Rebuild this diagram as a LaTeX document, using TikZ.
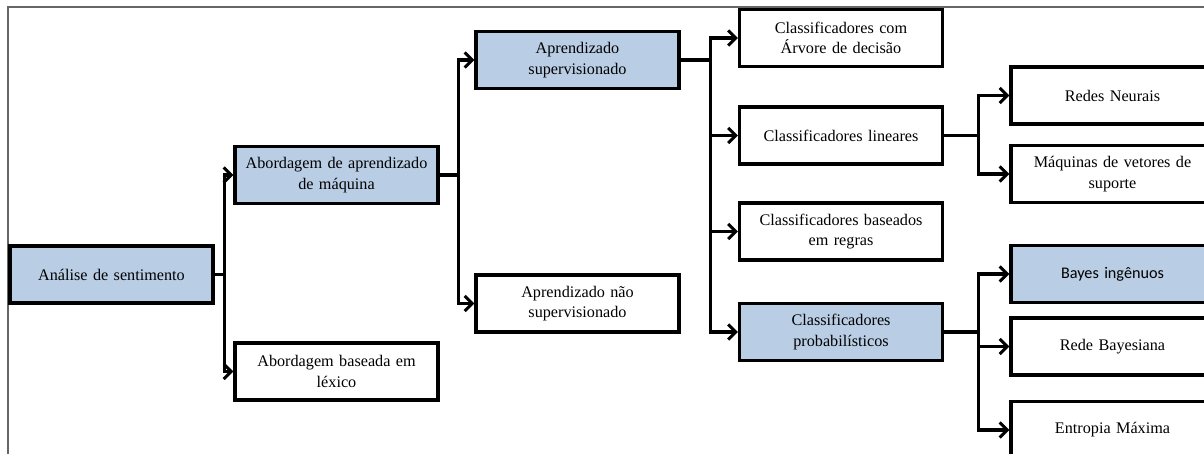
\documentclass[tikz,border=0pt]{standalone}
\usepackage{fontspec}
\setmainfont{Liberation Serif}
\newfontfamily\calibrifont{Carlito}
\usetikzlibrary{arrows.meta}

\begin{document}
\begin{tikzpicture}[x=1pt, y=-1pt, >={Straight Barb[length=7.5pt,width=15pt,line width=3pt]},
  caixa/.style={draw, line width=3.4pt, minimum width=203pt, minimum height=57pt, inner sep=0pt,
    text width=196pt, align=center, font=\fontsize{16.2}{20.5}\selectfont},
  azul/.style={caixa, fill=caixaazul},
  liga/.style={->, line width=3.2pt}]
\definecolor{caixaazul}{RGB}{185,205,229}
\clip (0,0) rectangle (1204,454);
\draw [black!60, line width=1.2pt] (8,454) -- (8,7) -- (1204,7);

\node [azul,name=ana] at (111.5,274.5) {Análise de sentimento};
\node [azul,name=ml] at (336.5,175) {Abordagem de aprendizado\\de máquina};
\node [caixa,name=lex] at (336.5,371.5) {Abordagem baseada em\\léxico};
\node [azul,name=sup] at (577.5,60) {Aprendizado\\supervisionado};
\node [caixa,name=nsup] at (577.5,303.5) {Aprendizado não\\supervisionado};
\node [caixa,name=arv] at (841,38) {Classificadores com\\Árvore de decisão};
\node [caixa,name=lin] at (841,135.5) {Classificadores lineares};
\node [caixa,name=reg] at (841,231.5) {Classificadores baseados\\em regras};
\node [azul,name=prob] at (841,332) {Classificadores\\probabilísticos};
\node [caixa,name=rn] at (1112.5,95.5) {Redes Neurais};
\node [caixa,name=svm] at (1112.5,174) {Máquinas de vetores de\\suporte};
\node [azul,name=bayes,font=\calibrifont\fontsize{16.2}{20.5}\selectfont] at (1112.5,274) {Bayes ingênuos};
\node [caixa,name=rb] at (1112.5,346.5) {Rede Bayesiana};
\node [caixa,name=ent] at (1112.5,430) {Entropia Máxima};

\begin{scope}[liga]
  \draw (ana.east) -- ++(10,0) |- (ml.west);
  \draw (ana.east) -- ++(10,0) |- (lex.west);
  \draw (ml.east) -- ++(19,0) |- (sup.west);
  \draw (ml.east) -- ++(19,0) |- (nsup.west);
  \draw (sup.east) -- ++(30,0) |- (arv.west);
  \draw (sup.east) -- ++(30,0) |- (lin.west);
  \draw (sup.east) -- ++(30,0) |- (reg.west);
  \draw (sup.east) -- ++(30,0) |- (prob.west);
  \draw (lin.east) -- ++(34,0) |- (rn.west);
  \draw (lin.east) -- ++(34,0) |- (svm.west);
  \draw (prob.east) -- ++(34,0) |- (bayes.west);
  \draw (prob.east) -- ++(34,0) |- (rb.west);
  \draw (prob.east) -- ++(34,0) |- (ent.west);
\end{scope}
\end{tikzpicture}
\end{document}
